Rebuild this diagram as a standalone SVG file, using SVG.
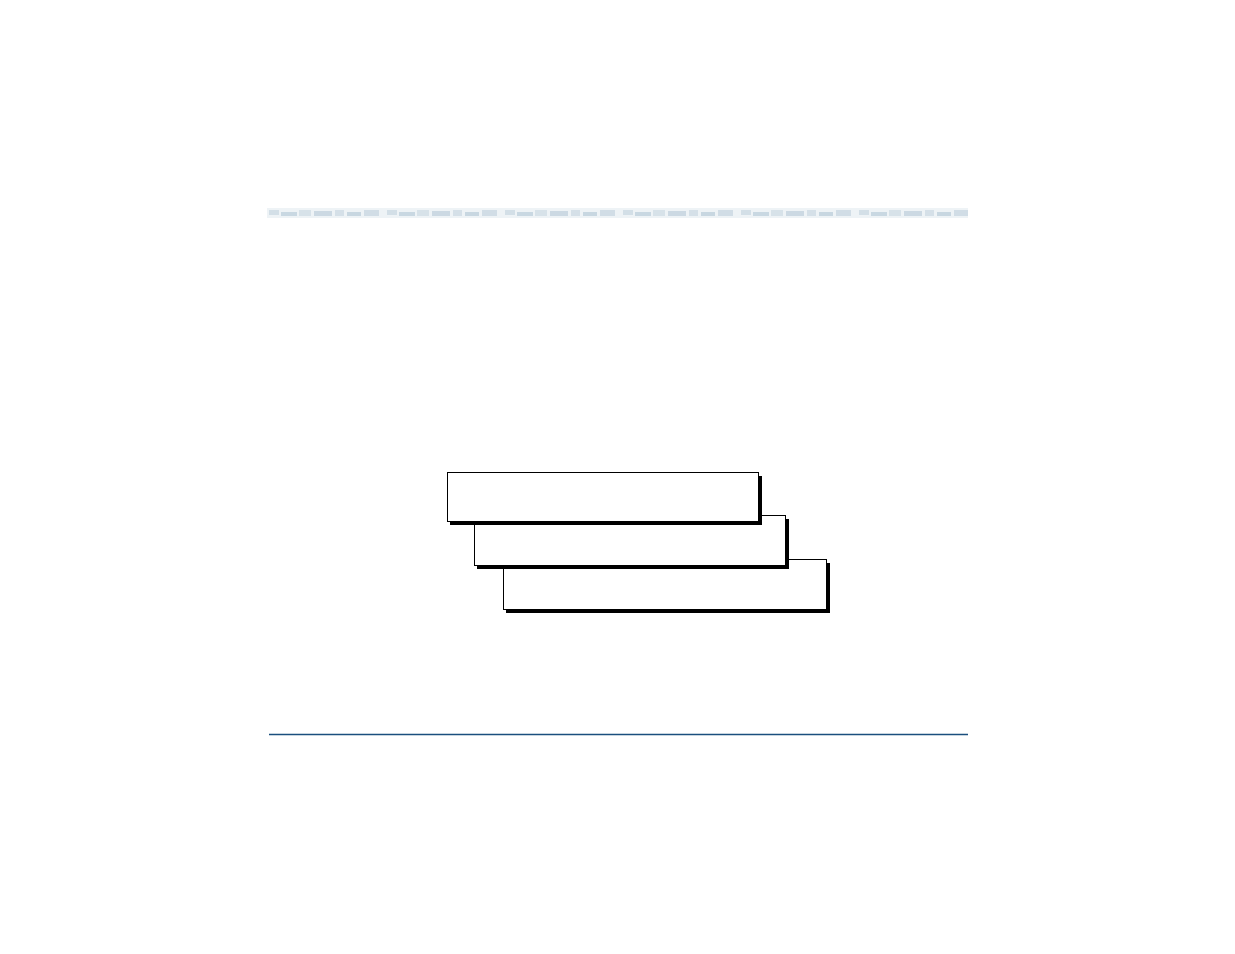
<svg xmlns="http://www.w3.org/2000/svg" width="1235" height="954" viewBox="0 0 1235 954">
  <defs>
    <style>
      .box { fill: #ffffff; stroke: #000000; stroke-width: 1; }
      .shadow { fill: #000000; }
      .rule { stroke: #1b4f7e; stroke-width: 1.5; }
    </style>
    <pattern id="band" x="267" y="208" width="118" height="10" patternUnits="userSpaceOnUse">
      <rect x="0" y="0" width="118" height="10" fill="#eef3f6"/>
      <rect x="2" y="2" width="10" height="5" fill="#d3dfe7"/>
      <rect x="14" y="4" width="16" height="4" fill="#c9d8e2"/>
      <rect x="32" y="2" width="12" height="6" fill="#d7e2e9"/>
      <rect x="47" y="3" width="18" height="5" fill="#ccd9e3"/>
      <rect x="68" y="2" width="9" height="6" fill="#d5e0e8"/>
      <rect x="80" y="4" width="14" height="4" fill="#c8d7e1"/>
      <rect x="97" y="2" width="15" height="6" fill="#d1dde6"/>
    </pattern>
  </defs>
  <rect x="0" y="0" width="1235" height="954" fill="#ffffff"/>
  <g id="header-band">
    <rect x="267" y="208" width="701" height="10" fill="url(#band)"/>
  </g>
  <g id="node-3">
    <rect class="shadow" x="506" y="563" width="324" height="50"/>
    <rect class="box" x="503.5" y="559.5" width="323" height="50"/>
  </g>
  <g id="node-2">
    <rect class="shadow" x="477" y="519" width="312" height="50"/>
    <rect class="box" x="474.5" y="515.5" width="311" height="50"/>
  </g>
  <g id="node-1">
    <rect class="shadow" x="450" y="476" width="312" height="49"/>
    <rect class="box" x="447.5" y="472.5" width="311" height="49"/>
  </g>
  <g id="connectors"></g>
  <g id="footer-rule">
    <line class="rule" x1="269" y1="734.5" x2="968" y2="734.5"/>
  </g>
</svg>
